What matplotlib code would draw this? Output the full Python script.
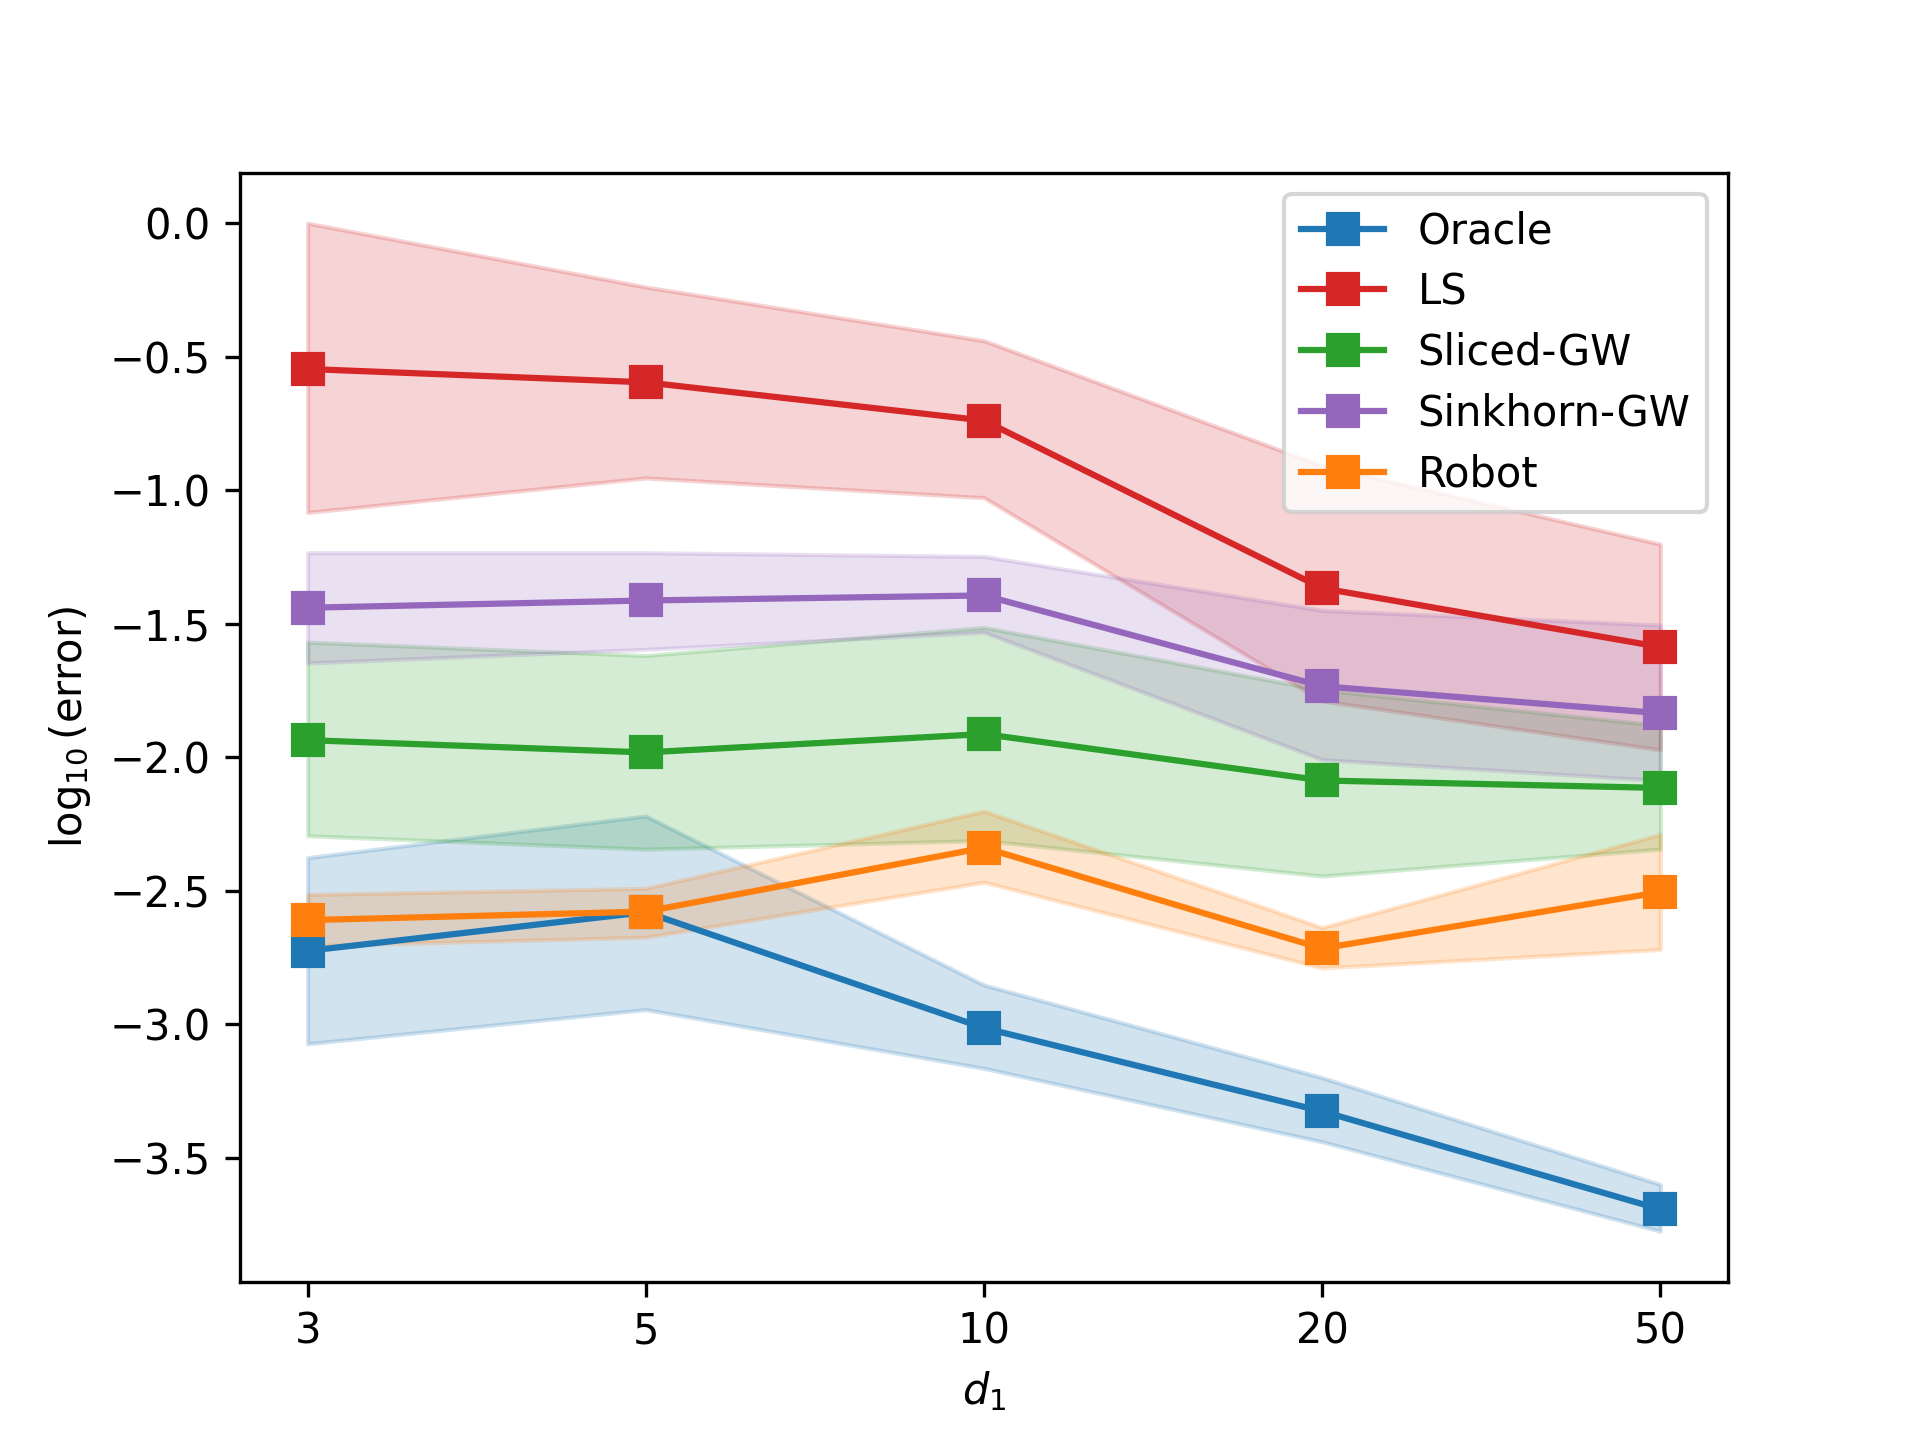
import numpy as np
import matplotlib
matplotlib.use("Agg")
import matplotlib.pyplot as plt

d1_labels = ["3", "5", "10", "20", "50"]

oracle_mean = [-2.725, -2.58, -3.014, -3.326, -3.693]
oracle_low = [-3.073, -2.945, -3.165, -3.44, -3.775]
oracle_high = [-2.376, -2.22, -2.853, -3.20, -3.60]

ls_mean = [-0.546, -0.596, -0.739, -1.367, -1.587]
ls_low = [-1.083, -0.954, -1.028, -1.789, -1.972]
ls_high = [0.0, -0.239, -0.44, -0.908, -1.202]

sliced_mean = [-1.936, -1.982, -1.913, -2.087, -2.115]
sliced_low = [-2.294, -2.344, -2.312, -2.445, -2.344]
sliced_high = [-1.569, -1.619, -1.514, -1.748, -1.881]

sinkhorn_mean = [-1.44, -1.413, -1.394, -1.734, -1.835]
sinkhorn_low = [-1.647, -1.596, -1.532, -2.009, -2.087]
sinkhorn_high = [-1.234, -1.234, -1.248, -1.45, -1.505]

robot_mean = [-2.61, -2.578, -2.339, -2.716, -2.505]
robot_low = [-2.706, -2.674, -2.468, -2.789, -2.72]
robot_high = [-2.514, -2.491, -2.202, -2.638, -2.289]

series = [
    ("Oracle", "tab:blue", oracle_mean, oracle_low, oracle_high),
    ("LS", "tab:red", ls_mean, ls_low, ls_high),
    ("Sliced-GW", "tab:green", sliced_mean, sliced_low, sliced_high),
    ("Sinkhorn-GW", "tab:purple", sinkhorn_mean, sinkhorn_low, sinkhorn_high),
    ("Robot", "tab:orange", robot_mean, robot_low, robot_high),
]

fig, ax = plt.subplots(figsize=(6.4, 4.8), dpi=300)
x = np.arange(len(d1_labels))
for name, color, m, lo, hi in series:
    ax.plot(x, m, marker="s", markersize=7, color=color, label=name)
    ax.fill_between(x, lo, hi, color=color, alpha=0.2)

ax.set_xticks(x)
ax.set_xticklabels(d1_labels)
ax.set_xlabel(r"$d_1$")
ax.set_ylabel(r"$\log_{10}$(error)")
ax.legend(loc="upper right", labelspacing=0.45)
fig.savefig("out.png", dpi=300)
